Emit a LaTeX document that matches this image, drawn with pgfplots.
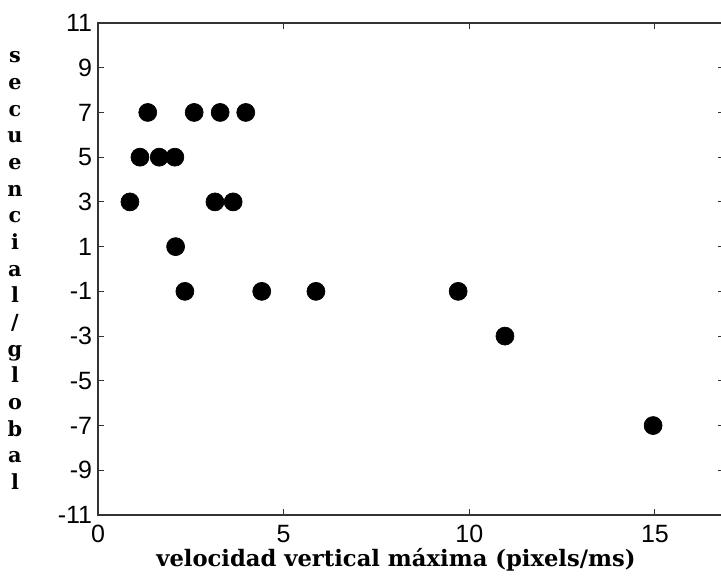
\documentclass[border=0pt]{standalone}
\usepackage{pgfplots}
\pgfplotsset{compat=1.18}
\usepackage{fontspec}
\setmainfont{Liberation Sans}
\newfontfamily\labfont{DejaVu Serif}
\begin{document}
\begin{tikzpicture}
\path[use as bounding box] (-58.8pt,-38.4pt) rectangle (373.8pt,309pt);
\begin{axis}[
  at={(0,0)}, anchor=south west,
  scale only axis,
  width=375.6pt, height=295.2pt,
  xmin=0, xmax=16.86, ymin=-11, ymax=11,
  xtick={0,5,10,15},
  ytick={-11,-9,...,11},
  tick align=inside,
  major tick length=3.6pt,
  axis line style={line width=0.8pt, black!80},
  tick style={line width=0.6pt, black!80},
  /pgf/number format/assume math mode=true,
  ticklabel style={font=\fontsize{15}{15}\selectfont},
  xticklabel style={yshift=-2.5pt},
  yticklabel style={xshift=0pt},
  xlabel={velocidad vertical máxima (pixels/ms)},
  xlabel style={font=\labfont\bfseries\fontsize{13.6}{15}\selectfont, at={(rel axis cs:0.476,0)}, anchor=base, yshift=-31pt},
  ylabel={s\\e\\c\\u\\e\\n\\c\\i\\a\\l\\/\\g\\l\\o\\b\\a\\l},
  ylabel style={rotate=-90, align=center, font=\labfont\bfseries\fontsize{12.5}{16}\selectfont, at={(rel axis cs:0,0.5)}, anchor=center, xshift=-49.8pt, yshift=-1pt},
  clip=false,
]
\addplot[only marks, mark=*, mark size=5.4pt, mark options={fill=black, draw=black}] coordinates {
  (1.34,7) (2.59,7) (3.29,7) (3.98,7)
  (1.13,5) (1.65,5) (2.07,5)
  (0.86,3) (3.15,3) (3.64,3)
  (2.09,1)
  (2.34,-1) (4.41,-1) (5.87,-1) (9.70,-1)
  (10.96,-3)
  (14.95,-7)
};
\end{axis}
\end{tikzpicture}
\end{document}
